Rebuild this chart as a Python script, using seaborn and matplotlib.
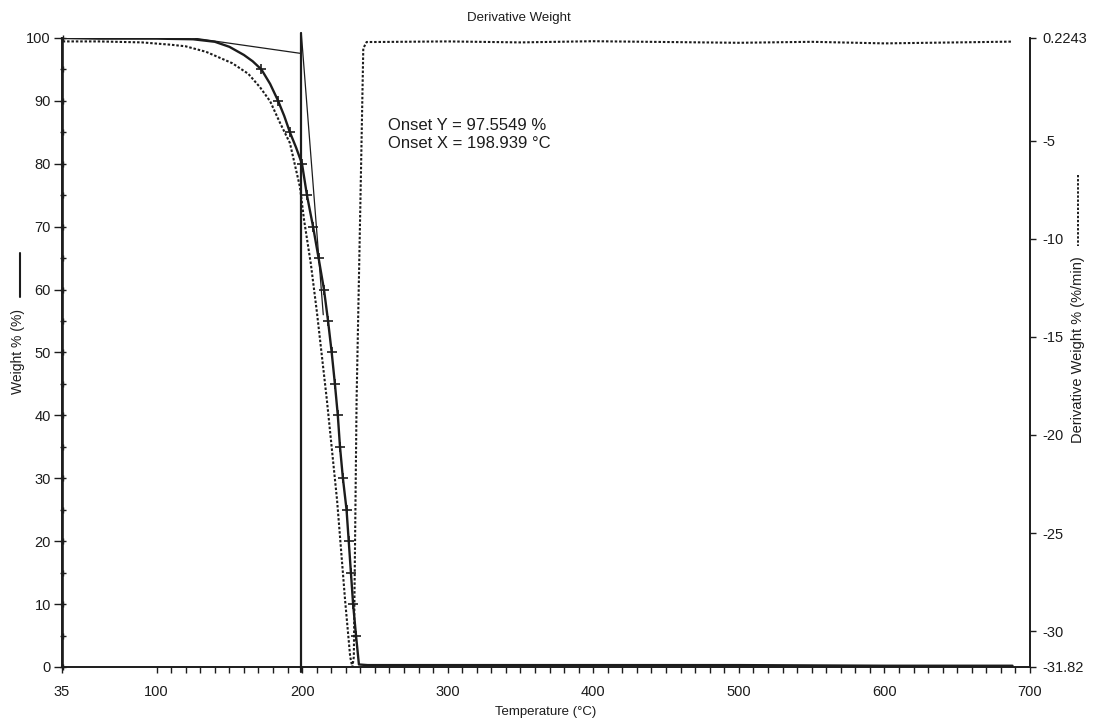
import seaborn as sns
import matplotlib.pyplot as plt
from matplotlib.lines import Line2D

# Weight % curve (solid, "+" markers every 5 %)
temp_w = [35.5, 60, 100, 125, 140, 150, 160, 166, 172, 178, 183.5, 187.7, 191.6, 195.8, 199.9,
          203.3, 207.5, 211.3, 215, 217.8, 220.3, 222.5, 224.5, 226, 228, 230.5, 232, 233.5, 235,
          237, 239, 245, 300, 400, 500, 600, 688]
weight = [100, 99.9, 99.9, 99.8, 99.4, 98.6, 97.3, 96.3, 95, 92.7, 90, 87.6, 85, 82.6, 80,
          75, 70, 65, 60, 55, 50, 45, 40, 35, 30, 25, 20, 15, 10,
          5, 0.4, 0.3, 0.3, 0.3, 0.3, 0.2, 0.2]
marked_w = [95, 90, 85, 80, 75, 70, 65, 60, 55, 50, 45, 40, 35, 30, 25, 20, 15, 10, 5]

# start-up segment at the first temperature (drawn up the left axis)
start_t = [35.5] * 21
start_w = [0, 5, 10, 15, 20, 25, 30, 35, 40, 45, 50, 55, 60, 65, 70, 75, 80, 85, 90, 95, 100]

# Derivative weight curve (dotted, right axis, %/min)
temp_d = [35.5, 60, 90, 110, 120, 134, 152, 163, 171, 178, 184.8, 191.6, 198.5, 201.3, 206,
          210.2, 217, 224, 229.5, 233, 234.5, 235.5, 237.4, 240, 242, 244.3, 250, 300, 350,
          400, 450, 500, 550, 600, 650, 688]
deriv = [0.05, 0.05, 0.0, -0.12, -0.2, -0.48, -1.06, -1.6, -2.28, -3.0, -4.1, -5.13, -7.37, -9.04, -11.3,
         -13.78, -18.23, -23.33, -28.42, -31.3, -31.82, -31.3, -18.2, -8.2, -0.3, 0.02, 0.02, 0.05, 0.0,
         0.06, 0.02, -0.02, 0.03, -0.05, 0.0, 0.04]

# Onset construction
onset_x = 198.939
onset_y = 97.5549
base_t = [125, onset_x]
base_w = [100.0, onset_y]
tang_t = [199.4, 214.5]
tang_w = [100.8, 56.0]

x_ticks = [35, 100, 200, 300, 400, 500, 600, 700]
y_ticks = [0, 10, 20, 30, 40, 50, 60, 70, 80, 90, 100]
y2_ticks = [0.2243, -5, -10, -15, -20, -25, -30, -31.82]
y2_labels = ["0.2243", "-5", "-10", "-15", "-20", "-25", "-30", "-31.82"]

sns.set_theme(style="ticks")
plt.rcParams["font.family"] = ["Liberation Sans", "DejaVu Sans"]
ink = "#1c1c1c"

fig = plt.figure(figsize=(10.95, 7.21), dpi=100)
ax = fig.add_axes([0.0566, 0.0749, 0.8840, 0.8724])
ax2 = ax.twinx()

# weight curve
mark_idx = [i for i, w in enumerate(weight) if w in marked_w]
sns.lineplot(x=temp_w, y=weight, ax=ax, color=ink, lw=1.7, estimator=None, sort=False,
             marker="+", markevery=mark_idx, markersize=7, markeredgewidth=1.2,
             markeredgecolor=ink)
sns.lineplot(x=start_t, y=start_w, ax=ax, color=ink, lw=1.2, estimator=None, sort=False,
             marker="+", markersize=5, markeredgewidth=1.0, markeredgecolor=ink, clip_on=False)

# onset tangents and marker line
sns.lineplot(x=base_t, y=base_w, ax=ax, color=ink, lw=0.9, estimator=None, sort=False)
sns.lineplot(x=tang_t, y=tang_w, ax=ax, color=ink, lw=0.9, estimator=None, sort=False,
             clip_on=False)
ax.plot([onset_x, onset_x], [-0.8, 100.8], color=ink, lw=1.6, clip_on=False)

# derivative curve
sns.lineplot(x=temp_d, y=deriv, ax=ax2, color=ink, lw=1.5, estimator=None, sort=False,
             linestyle=(0, (1.2, 0.9)))

ax.set_xlim(35, 700)
ax.set_ylim(0, 100)
ax2.set_ylim(-31.82, 0.2243)

ax.set_xticks(x_ticks)
ax.set_xticks(list(range(110, 700, 10)), minor=True)
ax.set_yticks(y_ticks)
ax2.set_yticks(y2_ticks)
ax2.set_yticklabels(y2_labels)

ax.tick_params(axis="x", which="major", direction="out", length=4, width=1.0, colors=ink,
               labelsize=10.5, pad=9)
ax.tick_params(axis="x", which="minor", direction="out", length=4, width=1.0, colors=ink)
ax.tick_params(axis="y", direction="out", length=6, width=1.0, colors=ink, labelsize=10.5, pad=2)
ax2.tick_params(axis="y", direction="out", length=4, width=1.0, colors=ink, labelsize=10.5, pad=5)

for a in (ax, ax2):
    a.spines["top"].set_visible(False)
    for s in ("left", "right", "bottom"):
        a.spines[s].set_color(ink)
        a.spines[s].set_linewidth(1.2)
    a.set_ylabel("")
    a.grid(False)

ax.set_xlabel("Temperature (°C)", fontsize=9.5, color=ink, labelpad=5)

# axis titles with line samples
fig.text(18 / 1095, 1 - 352 / 721, "Weight % (%)", rotation=90, ha="center", va="center",
         fontsize=10, color=ink)
fig.add_artist(Line2D([20 / 1095, 20 / 1095], [1 - 253 / 721, 1 - 297 / 721], color=ink, lw=1.5))
fig.text(1078 / 1095, 1 - 350 / 721, "Derivative Weight % (%/min)", rotation=90, ha="center",
         va="center", fontsize=10.5, color=ink)
fig.add_artist(Line2D([1078 / 1095, 1078 / 1095], [1 - 175 / 721, 1 - 246 / 721], color=ink,
                      lw=1.4, linestyle=(0, (1.2, 0.9))))

fig.text(519 / 1095, 1 - 18 / 721, "Derivative Weight", ha="center", va="center",
         fontsize=9.5, color=ink)
ax.text(388 / 1095, 1 - 125 / 721, "Onset Y = 97.5549 %", transform=fig.transFigure,
        ha="left", va="center", fontsize=12, color=ink)
ax.text(388 / 1095, 1 - 143 / 721, "Onset X = 198.939 °C", transform=fig.transFigure,
        ha="left", va="center", fontsize=12, color=ink)

fig.savefig("out.png", dpi=100, facecolor="white")
